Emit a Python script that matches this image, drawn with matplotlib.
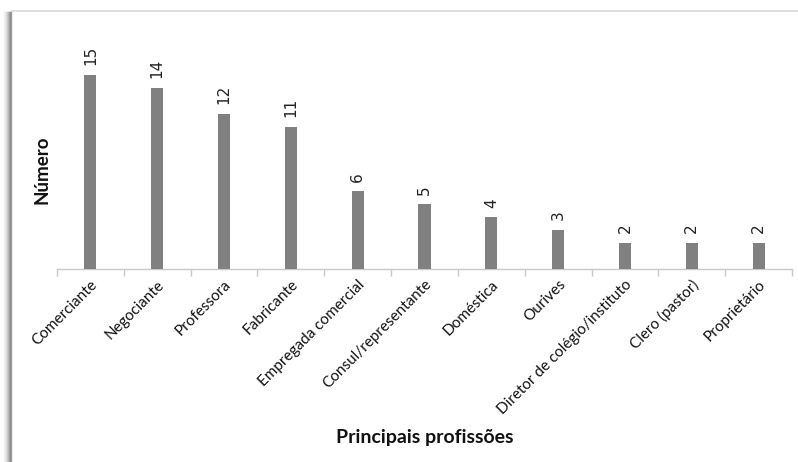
import matplotlib
matplotlib.use("Agg")
import matplotlib.pyplot as plt
import numpy as np
from matplotlib.lines import Line2D

categories = ["Comerciante", "Negociante", "Professora", "Fabricante",
              "Empregada comercial", "Consul/representante", "Doméstica",
              "Ourives", "Diretor de colégio/instituto", "Clero (pastor)",
              "Proprietário"]
values = [15, 14, 12, 11, 6, 5, 4, 3, 2, 2, 2]

plt.rcParams["font.family"] = ["Lato", "DejaVu Sans"]

W, H = 798, 462
fig = plt.figure(figsize=(W / 100, H / 100), dpi=100)
fig.patch.set_facecolor("white")

# chart frame: thin top border and soft left shadow
fig.add_artist(Line2D([12 / W, 1.0], [1 - 11 / H, 1 - 11 / H],
                      transform=fig.transFigure, color="#d9d9d9", lw=1.2))
shades = ["#f4f4f4", "#ececec", "#e0e0e0", "#d0d0d0", "#bdbdbd", "#a6a6a6", "#8c8c8c", "#9a9a9a"]
for i, c in enumerate(shades):
    x = (4 + i) / W
    fig.add_artist(Line2D([x, x], [0, 1 - 12 / H], transform=fig.transFigure,
                          color=c, lw=1.0))

left, right = 57 / W, 792 / W
bottom, top = 1 - 269 / H, 1 - 62 / H
ax = fig.add_axes([left, bottom, right - left, top - bottom])

x = np.arange(len(categories))
ax.bar(x, values, width=0.18, color="#808080", zorder=3)
ax.set_xlim(-0.5, len(categories) - 0.5)
ax.set_ylim(0, 16)

for xi, v in zip(x, values):
    ax.annotate(str(v), (xi, v), xytext=(0, 7), textcoords="offset points",
                rotation=90, ha="center", va="bottom", fontsize=11,
                color="#222222", family=["DejaVu Sans"])

for s in ["top", "right", "left"]:
    ax.spines[s].set_visible(False)
ax.spines["bottom"].set_color("#c8c8c8")
ax.spines["bottom"].set_linewidth(1.0)
ax.set_yticks([])

ax.set_xticks(np.arange(len(categories) + 1) - 0.5, minor=True)
ax.tick_params(axis="x", which="minor", length=5, color="#c8c8c8", width=1.0)
ax.tick_params(axis="x", which="major", length=0, pad=6)
ax.set_xticks(x)
ax.set_xticklabels(categories, rotation=45, ha="right", rotation_mode="anchor",
                   fontsize=11, color="#111111")

fig.text(42 / W, 1 - 170 / H, "Número", rotation=90, ha="center", va="center",
         fontsize=13.5, fontweight="bold", color="#111111")
fig.text(425 / W, 1 - 438 / H, "Principais profissões", ha="center", va="center",
         fontsize=14, fontweight="bold", color="#111111")

fig.savefig("out.png", dpi=100, facecolor="white")
